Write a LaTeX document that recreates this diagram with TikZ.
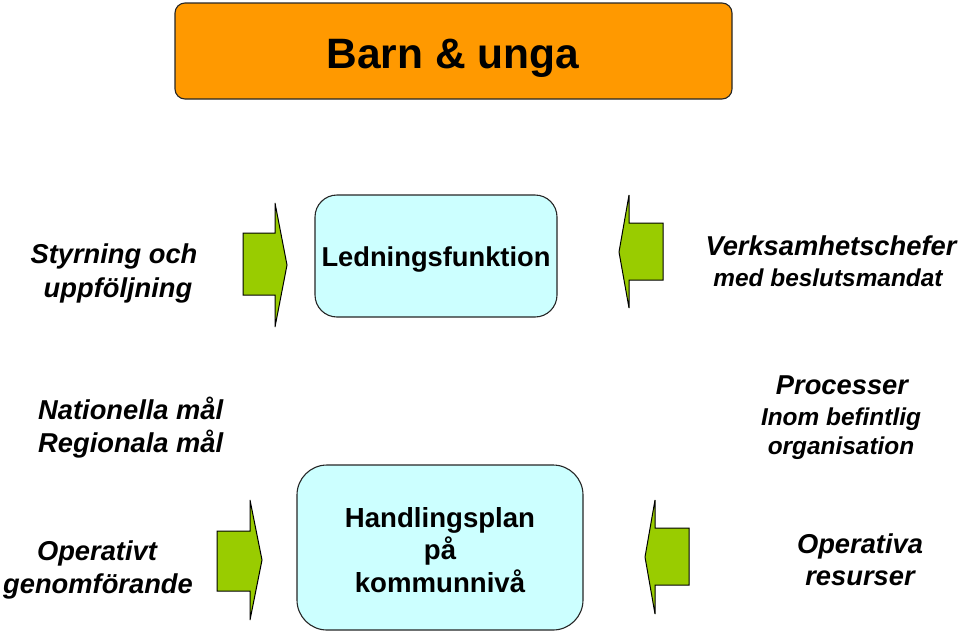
\documentclass[tikz,border=0pt]{standalone}
\usepackage{fontspec}
\setmainfont{Liberation Sans}
\definecolor{boxorange}{HTML}{FF9900}
\definecolor{boxcyan}{HTML}{CCFFFF}
\definecolor{arrowgreen}{HTML}{99CC00}
\begin{document}
\begin{tikzpicture}[x=1pt,y=-1pt,
  box/.style={draw=black!85,line width=1.1pt},
  garrow/.style={draw=black,fill=arrowgreen,line width=1pt,line join=miter},
  big/.style={inner sep=0pt,anchor=base,font=\bfseries\itshape\fontsize{27.3}{32}\selectfont},
  small/.style={inner sep=0pt,anchor=base,font=\bfseries\itshape\fontsize{24.4}{29}\selectfont},
  boxtext/.style={inner sep=0pt,anchor=base,font=\bfseries\fontsize{27.6}{32}\selectfont}]
\useasboundingbox (0,0) rectangle (960,633);
% boxes
\draw[box,fill=boxorange,rounded corners=10pt] (175,3) rectangle (732,99);
\node[inner sep=0pt,anchor=base,font=\bfseries\fontsize{42.5}{50}\selectfont] (barn) at (453,68) {Barn \& unga};
\draw[box,fill=boxcyan,rounded corners=22pt] (315,195) rectangle (557,317);
\node[boxtext,font=\bfseries\fontsize{27.3}{32}\selectfont] (led) at (436,266) {Ledningsfunktion};
\draw[box,fill=boxcyan,rounded corners=30pt] (297,465) rectangle (583,630);
\node[boxtext] (h1) at (440,527) {Handlingsplan};
\node[boxtext] (h2) at (440,559) {på};
\node[boxtext] (h3) at (440,592) {kommunnivå};
% arrows
\draw[garrow] (243,233) -- (275,233) -- (275,203) -- (287,265) -- (275,327) -- (275,295) -- (243,295) -- cycle;
\draw[garrow] (663,223) -- (629,223) -- (629,195) -- (619,252) -- (629,308) -- (629,280) -- (663,280) -- cycle;
\draw[garrow] (217,531) -- (250,531) -- (250,500) -- (262,560) -- (250,620) -- (250,591) -- (217,591) -- cycle;
\draw[garrow] (689,528) -- (655,528) -- (655,500) -- (645,557) -- (655,614) -- (655,585) -- (689,585) -- cycle;
% side texts
\node[big] (s1) at (114,263) {Styrning och};
\node[big] (s2) at (118,297) {uppföljning};
\node[big] (v1) at (831,255) {Verksamhetschefer};
\node[small] (v2) at (828,286) {med beslutsmandat};
\node[big,anchor=base west] (n1) at (38,419) {Nationella mål};
\node[big,anchor=base west] (n2) at (38,452) {Regionala mål};
\node[big] (p1) at (842,394) {Processer};
\node[small] (p2) at (841,425) {Inom befintlig};
\node[small] (p3) at (841,454) {organisation};
\node[big] (o1) at (97,560) {Operativt};
\node[big] (o2) at (98,593) {genomförande};
\node[big] (r1) at (860,553) {Operativa};
\node[big] (r2) at (860,585) {resurser};
\end{tikzpicture}
\end{document}
